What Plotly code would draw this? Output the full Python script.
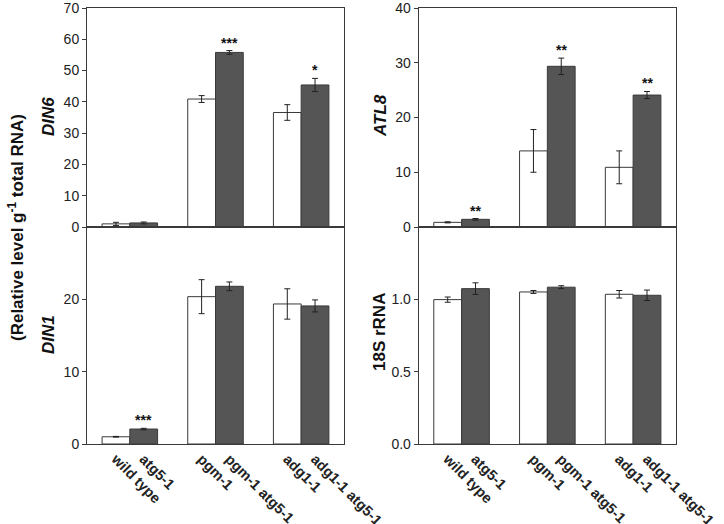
import plotly.graph_objects as go

genotypes = ["wild type", "atg5-1", "pgm-1", "pgm-1 atg5-1", "adg1-1", "adg1-1 atg5-1"]
groups = [0, 1, 2]

din6_wt = [1.0, 40.9, 36.6]
din6_wt_err = [0.5, 1.1, 2.5]
din6_atg = [1.3, 55.8, 45.4]
din6_atg_err = [0.3, 0.6, 2.1]
din6_sig = ["", "***", "*"]

atl8_wt = [0.85, 13.9, 10.9]
atl8_wt_err = [0.1, 3.9, 3.0]
atl8_atg = [1.4, 29.35, 24.1]
atl8_atg_err = [0.15, 1.5, 0.65]
atl8_sig = ["**", "**", "**"]

din1_wt = [1.0, 20.37, 19.36]
din1_wt_err = [0.05, 2.35, 2.1]
din1_atg = [2.07, 21.8, 19.09]
din1_atg_err = [0.1, 0.6, 0.83]
din1_sig = ["***", "", ""]

rrna_wt = [0.998, 1.051, 1.035]
rrna_wt_err = [0.018, 0.01, 0.026]
rrna_atg = [1.074, 1.084, 1.028]
rrna_atg_err = [0.04, 0.01, 0.036]
rrna_sig = ["", "", ""]

panels = [
    ("x1", "y1", din6_wt, din6_wt_err, din6_atg, din6_atg_err, din6_sig),
    ("x2", "y2", atl8_wt, atl8_wt_err, atl8_atg, atl8_atg_err, atl8_sig),
    ("x3", "y3", din1_wt, din1_wt_err, din1_atg, din1_atg_err, din1_sig),
    ("x4", "y4", rrna_wt, rrna_wt_err, rrna_atg, rrna_atg_err, rrna_sig),
]

OFF = 0.162
BW = 0.324
LINE = "#3a3a3a"
DARK = "#555555"

fig = go.Figure()
annotations = []
for xa, ya, wt, wte, atg, atge, sig in panels:
    xw = [g - OFF for g in groups]
    xd = [g + OFF for g in groups]
    fig.add_trace(go.Bar(x=xw, y=wt, width=BW, xaxis=xa, yaxis=ya,
                         marker=dict(color="white", line=dict(color=LINE, width=1)),
                         error_y=dict(type="data", array=wte, color="#222222", thickness=1, width=3),
                         showlegend=False))
    fig.add_trace(go.Bar(x=xd, y=atg, width=BW, xaxis=xa, yaxis=ya,
                         marker=dict(color=DARK, line=dict(color=LINE, width=1)),
                         error_y=dict(type="data", array=atge, color="#222222", thickness=1, width=3),
                         showlegend=False))
    for x, v, e, s in zip(xd, atg, atge, sig):
        if s:
            annotations.append(dict(x=x, y=v + e, xref=xa, yref=ya, text="<b>" + s + "</b>",
                                    showarrow=False, yanchor="bottom", yshift=-2,
                                    font=dict(size=14, color="#111111", family="Liberation Sans, Arial")))

font_tick = dict(family="Liberation Sans, Arial", size=14, color="#222222")
tickvals_x = [g + d for g in groups for d in (-OFF, OFF)]

def xaxis(domain, anchor, labels):
    d = dict(domain=domain, anchor=anchor, range=[-0.5, 2.5], showline=True, mirror=True,
             linecolor=LINE, linewidth=1, showgrid=False, zeroline=False, ticks="",
             showticklabels=labels, automargin=False)
    if labels:
        d.update(tickvals=tickvals_x, ticktext=genotypes, tickangle=45, ticklabeloverflow="allow",
                 tickfont=dict(family="Liberation Sans, Arial", size=14.5, color="#222222", weight="bold"))
    return d

def yaxis(domain, anchor, rng, tv, fmt=None):
    d = dict(domain=domain, anchor=anchor, range=rng, showline=True, mirror=True,
             linecolor=LINE, linewidth=1, showgrid=False, zeroline=False, ticks="outside",
             ticklen=4, tickcolor=LINE, tickvals=tv, tickfont=font_tick, automargin=False,
             ticklabeloverflow="allow")
    if fmt:
        d["tickformat"] = fmt
    return d

XL = [87 / 724, 344 / 724]
XR = [418.7 / 724, 676 / 724]
YT = [1 - 227 / 524, 1 - 8 / 524]
YB = [1 - 444 / 524, 1 - 227 / 524]

fig.update_layout(
    width=724, height=524, margin=dict(l=0, r=0, t=0, b=0, autoexpand=False),
    plot_bgcolor="white", paper_bgcolor="white", barmode="overlay",
    xaxis=xaxis(XL, "y", False),
    yaxis=yaxis(YT, "x", [0, 70], [0, 10, 20, 30, 40, 50, 60, 70]),
    xaxis2=xaxis(XR, "y2", False),
    yaxis2=yaxis(YT, "x2", [0, 40], [0, 10, 20, 30, 40]),
    xaxis3=xaxis(XL, "y3", True),
    yaxis3=yaxis(YB, "x3", [0, 30], [0, 10, 20]),
    xaxis4=xaxis(XR, "y4", True),
    yaxis4=yaxis(YB, "x4", [0, 1.5], [0, 0.5, 1.0], ".1f"),
)

label_font = dict(family="Liberation Sans, Arial", size=17, color="#111111")
side_labels = [
    ("<b><i>DIN6</i></b>", 48 / 724, 1 - 117 / 524),
    ("<b><i>DIN1</i></b>", 48 / 724, 1 - 335 / 524),
    ("<b><i>ATL8</i></b>", 380 / 724, 1 - 116 / 524),
    ("<b>18S rRNA</b>", 380 / 724, 1 - 332 / 524),
    ("<b>(Relative level g<sup>-1</sup> total RNA)</b>", 16 / 724, 1 - 228 / 524),
]
for t, x, y in side_labels:
    annotations.append(dict(text=t, x=x, y=y, xref="paper", yref="paper", showarrow=False,
                            textangle=-90, xanchor="center", yanchor="middle", font=label_font))

fig.update_layout(annotations=annotations)
fig.write_html("out.html", config={"displayModeBar": False},
               post_script="document.body.style.margin='0';document.body.style.overflow='hidden';")
